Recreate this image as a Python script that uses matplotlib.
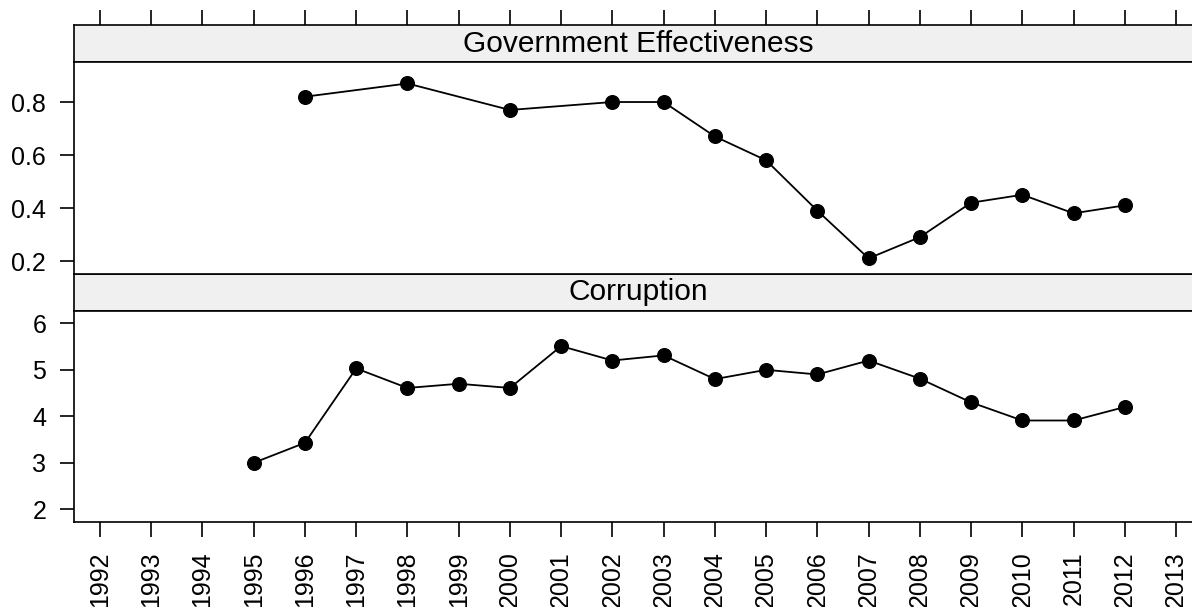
import matplotlib.pyplot as plt

years_ge = [1996, 1998, 2000, 2002, 2003, 2004, 2005, 2006, 2007, 2008, 2009, 2010, 2011, 2012]
gov_eff = [0.82, 0.87, 0.77, 0.80, 0.80, 0.67, 0.58, 0.39, 0.21, 0.29, 0.42, 0.45, 0.38, 0.41]

years_cor = list(range(1995, 2013))
corruption = [3.0, 3.43, 5.03, 4.61, 4.70, 4.61, 5.51, 5.20, 5.31, 4.80, 5.0, 4.90, 5.20, 4.81,
              4.30, 3.91, 3.91, 4.20]

year_ticks = list(range(1992, 2014))

plt.rcParams['font.family'] = ['Liberation Sans', 'DejaVu Sans']

fig = plt.figure(figsize=(11.92, 6.07), dpi=100)

# panels run a bit past the right edge, like the cropped original
left = 74 / 1192
width = (1202 - 74) / 1192
H = 607.0
xlim = (1991.493, 2013.507)
lw = 1.2


def panel(top, bottom):
    return fig.add_axes([left, 1 - bottom / H, width, (bottom - top) / H])


def style(ax):
    for s in ax.spines.values():
        s.set_linewidth(lw)
    ax.set_xlim(*xlim)


# strips
strip_top = panel(25, 62)
strip_bot = panel(274, 311)
for st, title in [(strip_top, 'Government Effectiveness'), (strip_bot, 'Corruption')]:
    style(st)
    st.set_facecolor('#f0f0f0')
    st.set_yticks([])
    st.set_xticks(year_ticks)
    st.text(0.5, 0.5, title, ha='center', va='center', fontsize=21.5,
            transform=st.transAxes)
    st.tick_params(axis='x', bottom=False, labelbottom=False)

strip_top.xaxis.set_ticks_position('top')
strip_top.tick_params(axis='x', top=True, labeltop=False, direction='out', length=11, width=lw)
strip_bot.tick_params(axis='x', top=False, labeltop=False)

# top panel
ax1 = panel(62, 274)
style(ax1)
ax1.plot(years_ge, gov_eff, color='black', lw=1.3, marker='o', markersize=9.8)
ax1.set_ylim(0.151, 0.951)
ax1.set_yticks([0.2, 0.4, 0.6, 0.8])
ax1.set_yticklabels(['0.2', '0.4', '0.6', '0.8'])
ax1.set_xticks([])
ax1.tick_params(axis='y', direction='out', length=10, width=lw, pad=10, labelsize=18)

# bottom panel
ax2 = panel(311, 522)
style(ax2)
ax2.plot(years_cor, corruption, color='black', lw=1.3, marker='o', markersize=9.8)
ax2.set_ylim(1.727, 6.265)
ax2.set_yticks([2, 3, 4, 5, 6])
ax2.set_xticks(year_ticks)
ax2.set_xticklabels([str(y) for y in year_ticks], rotation=90)
ax2.tick_params(axis='y', direction='out', length=10, width=lw, pad=10, labelsize=18)
ax2.tick_params(axis='x', direction='out', length=11, width=lw, pad=10, labelsize=18)

fig.savefig('out.png', dpi=100)
